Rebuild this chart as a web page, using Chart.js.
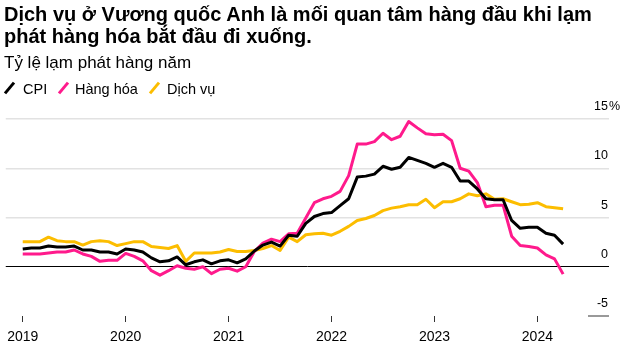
<!DOCTYPE html>
<html><head><meta charset="utf-8">
<script src="https://cdn.jsdelivr.net/npm/chart.js@4/dist/chart.umd.min.js"></script>
<style>
html,body{margin:0;padding:0;background:#fff;}
body{width:627px;height:356px;position:relative;overflow:hidden;font-family:"Liberation Sans",Arial,sans-serif;color:#000;}
#title{position:absolute;left:4px;top:3px;font-weight:bold;font-size:20px;line-height:22px;white-space:nowrap;}
#sub{position:absolute;left:4px;top:53px;font-size:17px;line-height:20px;white-space:nowrap;}
.lg-text{position:absolute;top:80px;font-size:14.5px;line-height:18px;white-space:nowrap;}
.lg-icon{position:absolute;top:81px;width:3px;height:14px;transform:rotate(40deg);}
canvas{position:absolute;left:0;top:0;}
</style>
</head><body>
<canvas id="c" width="627" height="356"></canvas>
<div id="title">Dịch vụ ở Vương quốc Anh là mối quan tâm hàng đầu khi lạm<br>phát hàng hóa bắt đầu đi xuống.</div>
<div id="sub">Tỷ lệ lạm phát hàng năm</div>
<div id="legend"></div>
<script>
// ---- data ----
const months = [];
for (let y = 2019; y <= 2024; y++) for (let m = 1; m <= 12; m++) { if (y === 2024 && m > 4) break; months.push(y + '-' + String(m).padStart(2, '0')); }

const seriesNames = ['CPI', 'Hàng hóa', 'Dịch vụ'];
const seriesColors = ['#000000', '#ff1a8c', '#fcbd00'];

const cpi = [1.8,1.9,1.9,2.1,2.0,2.0,2.1,1.7,1.7,1.5,1.5,1.3,
             1.8,1.7,1.5,0.9,0.5,0.6,1.0,0.2,0.5,0.7,0.3,0.6,
             0.7,0.4,0.8,1.6,2.2,2.5,2.1,3.2,3.1,4.4,5.1,5.4,
             5.5,6.2,6.9,9.1,9.2,9.4,10.2,9.9,10.1,11.1,10.8,10.5,
             10.1,10.5,10.1,8.7,8.7,7.9,6.9,6.8,6.8,4.7,3.9,4.0,
             4.0,3.4,3.2,2.3];
const goods = [1.3,1.3,1.3,1.4,1.5,1.5,1.7,1.3,1.05,0.55,0.65,0.65,
               1.35,1.05,0.6,-0.4,-0.85,-0.4,0.1,-0.15,-0.25,0.0,-0.7,-0.25,
               -0.15,-0.45,0.0,1.55,2.4,2.8,2.55,3.35,3.4,4.95,6.5,6.9,
               7.15,7.65,9.25,12.45,12.45,12.7,13.55,12.9,13.25,14.75,14.1,13.5,
               13.4,13.45,12.8,10.0,9.7,8.55,6.1,6.25,6.25,3.1,2.15,2.05,
               1.9,1.2,0.8,-0.75];
const services = [2.55,2.55,2.55,3.0,2.65,2.55,2.55,2.2,2.55,2.65,2.55,2.15,
                  2.35,2.55,2.55,2.05,1.95,1.85,2.15,0.55,1.4,1.4,1.4,1.5,
                  1.75,1.55,1.55,1.65,1.85,2.15,1.65,3.0,2.55,3.25,3.35,3.4,
                  3.2,3.6,4.1,4.7,4.9,5.2,5.7,5.95,6.1,6.3,6.3,6.85,
                  6.0,6.6,6.6,6.9,7.4,7.2,7.4,6.85,6.9,6.6,6.3,6.35,
                  6.5,6.1,6.0,5.9];

const yearTicks = [2019, 2020, 2021, 2022, 2023, 2024];
const yearLabels = ['2019', '2020', '2021', '2022', '2023', '2024'];
const yTicks = [-5, 0, 5, 10, 15];
const yTickLabels = ['-5', '0', '5', '10', '15'];

// ---- legend (HTML) ----
const lgIconLeft = [8, 62, 153];
const lgTextLeft = [23, 75, 167];
const lg = document.getElementById('legend');
seriesNames.forEach((n, i) => {
  const ic = document.createElement('span');
  ic.className = 'lg-icon'; ic.style.left = lgIconLeft[i] + 'px'; ic.style.background = seriesColors[i];
  lg.appendChild(ic);
  const tx = document.createElement('span');
  tx.className = 'lg-text'; tx.style.left = lgTextLeft[i] + 'px'; tx.textContent = n;
  lg.appendChild(tx);
});

// ---- chart ----
const xMin = -1.98, xMax = 68.35;
const series = [cpi, goods, services];

const yLabelPlugin = {
  id: 'yLabels',
  afterDraw(chart) {
    const {ctx, chartArea, scales} = chart;
    const y = scales.y;
    ctx.save();
    ctx.font = '12.5px "Liberation Sans", Arial, sans-serif';
    ctx.fillStyle = '#000';
    ctx.textBaseline = 'alphabetic';
    y.ticks.forEach((t, i) => {
      const py = y.getPixelForValue(t.value);
      ctx.textAlign = 'right';
      ctx.fillText(yTickLabels[i], chartArea.right - 1, py - 9);
      if (i === y.ticks.length - 1) { ctx.textAlign = 'left'; ctx.fillText('%', chartArea.right, py - 9); }
    });
    const pm = y.getPixelForValue(yTicks[0]);
    ctx.strokeStyle = '#777'; ctx.lineWidth = 1.5;
    ctx.beginPath(); ctx.moveTo(chartArea.right - 21, pm); ctx.lineTo(chartArea.right, pm); ctx.stroke();
    ctx.restore();
  }
};

new Chart(document.getElementById('c'), {
  type: 'line',
  data: {
    labels: months,
    datasets: series.map((s, k) => ({
      label: seriesNames[k],
      data: s.map((v, i) => ({x: i, y: v})),
      borderColor: seriesColors[k],
      borderWidth: 3,
      pointRadius: 0,
      tension: 0,
      borderJoinStyle: 'round',
      xAxisID: 'x'
    }))
  },
  options: {
    responsive: false,
    animation: false,
    devicePixelRatio: 1,
    layout: {padding: {top: 119, right: 18, bottom: 10, left: 4}},
    plugins: {legend: {display: false}, title: {display: false}, tooltip: {enabled: false}},
    scales: {
      x: {type: 'linear', display: false, min: xMin, max: xMax},
      xYear: {
        type: 'linear', axis: 'x', position: 'bottom',
        min: 2019 + xMin / 12, max: 2019 + xMax / 12,
        afterBuildTicks: s => { s.ticks = yearTicks.map(v => ({value: v})); },
        afterFit: s => { s.height = 30; },
        grid: {display: true, drawOnChartArea: false, drawTicks: true, tickLength: 6, tickColor: '#333', tickWidth: 1},
        border: {display: false},
        ticks: {
          autoSkip: false, maxRotation: 0, padding: 7, color: '#000',
          font: {family: '"Liberation Sans", Arial, sans-serif', size: 14},
          callback: (v, i) => yearLabels[i]
        }
      },
      y: {
        type: 'linear', position: 'right', min: -5, max: 15,
        afterBuildTicks: s => { s.ticks = yTicks.map(v => ({value: v})); },
        afterFit: s => { s.width = 0; },
        border: {display: false},
        ticks: {display: false},
        grid: {
          drawTicks: false,
          color: c => c.tick.value === 0 ? '#000' : (c.tick.value === yTicks[0] ? 'rgba(0,0,0,0)' : '#e2e2e2'),
          lineWidth: c => c.tick.value === 0 ? 1 : 1.5
        }
      }
    }
  },
  plugins: [yLabelPlugin]
});
</script>
</body></html>
